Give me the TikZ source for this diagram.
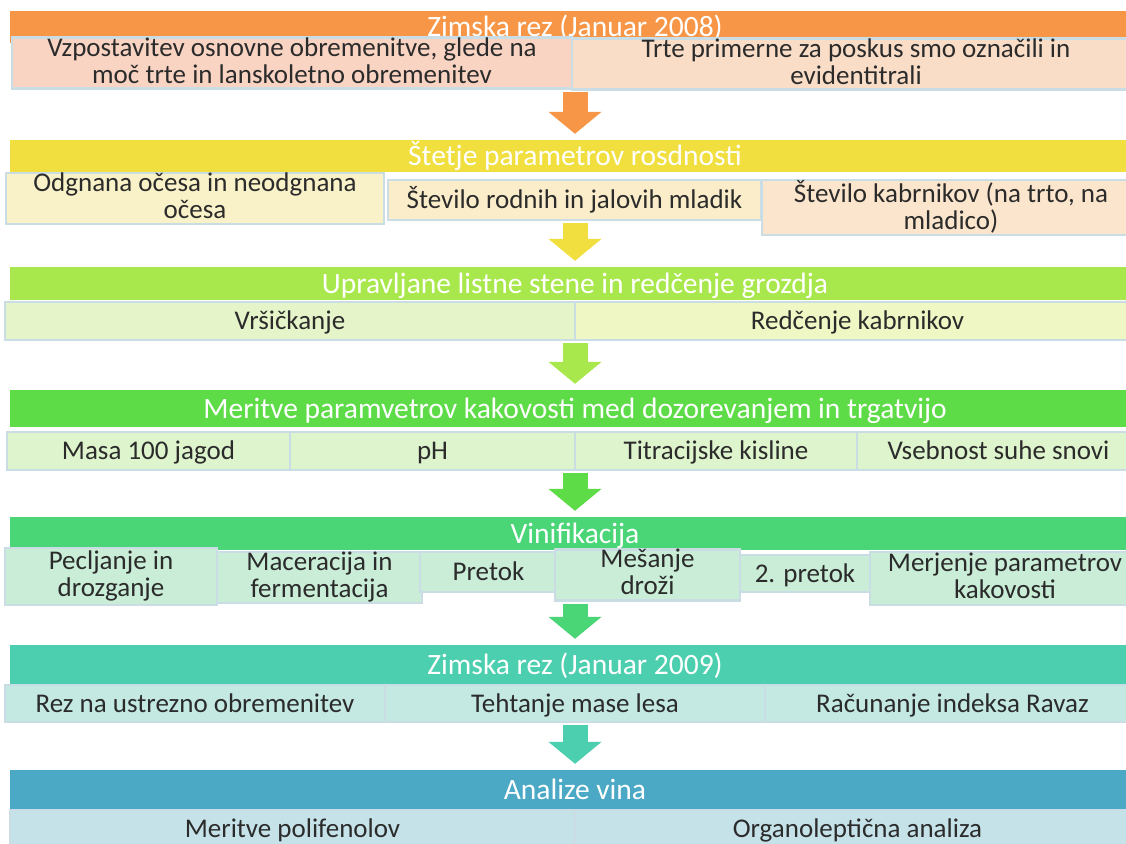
\documentclass[tikz,border=0pt]{standalone}
\usepackage{fontspec}
\setmainfont{Carlito}
\usepackage{tikz}
\usetikzlibrary{arrows.meta}

\definecolor{orhead}{HTML}{F79646}
\definecolor{orsubA}{HTML}{F9D4C3}
\definecolor{orsubB}{HTML}{FADDC7}
\definecolor{yehead}{HTML}{F0DF3F}
\definecolor{yesubA}{HTML}{F9F1C7}
\definecolor{yesubB}{HTML}{FBEDCA}
\definecolor{yesubC}{HTML}{FBE5CC}
\definecolor{lihead}{HTML}{A9E84C}
\definecolor{lisubA}{HTML}{E6F5C9}
\definecolor{lisubB}{HTML}{EFF7C4}
\definecolor{grhead}{HTML}{5EDC48}
\definecolor{grsub}{HTML}{DEF4CD}
\definecolor{vihead}{HTML}{4AD577}
\definecolor{visub}{HTML}{C9EDD6}
\definecolor{tehead}{HTML}{4CCFAF}
\definecolor{tesub}{HTML}{C3E9E2}
\definecolor{blhead}{HTML}{4BA9C6}
\definecolor{blsub}{HTML}{C6E2E9}
\definecolor{subline}{HTML}{CADDE4}
\definecolor{textgray}{HTML}{2B2B2B}

\tikzset{
  head/.style={rectangle, inner sep=0pt, minimum width=1130pt, text=white,
    font=\fontsize{29.5}{30}\selectfont,
    execute at begin node={\rule{0pt}{25pt}},
    execute at end node={\rule[-6pt]{0pt}{6pt}}},
  sub/.style={rectangle, draw=subline, line width=2.5pt, inner sep=0pt,
    align=center, text=textgray, font=\fontsize{27}{27}\selectfont,
    execute at begin node={\rule{0pt}{23pt}},
    execute at end node={\rule[-5.6pt]{0pt}{5.6pt}}},
  fatarrow/.style={line width=25pt, shorten <=2pt, shorten >=6pt,
    -{Triangle[length=22pt,width=52pt]}}
}

\begin{document}
\begin{tikzpicture}[x=1pt, y=-1pt]
\useasboundingbox (0,0) rectangle (1126,843);
\clip (0,0) rectangle (1126,843);

% ===== Zimska rez 2008 =====
\node[head, fill=orhead, minimum height=32pt] (h1) at (575,27) {Zimska rez (Januar 2008)};
\node[sub, fill=orsubA, minimum width=560pt, minimum height=50pt] (r1a) at (292,63)
  {Vzpostavitev osnovne obremenitve, glede na\\moč trte in lanskoletno obremenitev};
\node[sub, fill=orsubB, minimum width=568pt, minimum height=48pt] (r1b) at (856,64)
  {Trte primerne za poskus smo označili in\\evidentitrali};

% ===== Stetje parametrov =====
\node[head, fill=yehead, minimum height=32pt] (h2) at (575,156) {Štetje parametrov rosdnosti};
\node[sub, fill=yesubA, minimum width=378pt, minimum height=46pt] (r2a) at (195,198.5)
  {Odgnana očesa in neodgnana\\očesa};
\node[sub, fill=yesubB, minimum width=373pt, minimum height=40pt] (r2b) at (574.5,200)
  {Število rodnih in jalovih mladik};
\node[sub, fill=yesubC, minimum width=378pt, minimum height=55pt] (r2c) at (951,207.5)
  {Število kabrnikov (na trto, na\\mladico)};

% ===== Listne stene =====
\node[head, fill=lihead, minimum height=33pt] (h3) at (575,283.5) {Upravljane listne stene in redčenje grozdja};
\node[sub, fill=lisubA, minimum width=570pt, minimum height=38pt] (r3a) at (290,321) {Vršičkanje};
\node[sub, fill=lisubB, minimum width=565pt, minimum height=38pt] (r3b) at (857.5,321) {Redčenje kabrnikov};

% ===== Meritve kakovosti =====
\node[head, fill=grhead, minimum height=37pt] (h4) at (575,408.5) {Meritve paramvetrov kakovosti med dozorevanjem in trgatvijo};
\node[sub, fill=grsub, minimum width=283pt, minimum height=38pt] (r4a) at (148.5,451) {Masa 100 jagod};
\node[sub, fill=grsub, minimum width=285pt, minimum height=38pt] (r4b) at (432.5,451) {pH};
\node[sub, fill=grsub, minimum width=282pt, minimum height=38pt] (r4c) at (716,451) {Titracijske kisline};
\node[sub, fill=grsub, minimum width=283pt, minimum height=38pt] (r4d) at (998.5,451) {Vsebnost suhe snovi};

% ===== Vinifikacija =====
\node[head, fill=vihead, minimum height=33pt] (h5) at (575,533.5) {Vinifikacija};
\node[sub, fill=visub, minimum width=212pt, minimum height=57pt] (r5a) at (111,576.5) {Pecljanje in\\drozganje};
\node[sub, fill=visub, minimum width=205pt, minimum height=51pt] (r5b) at (319.5,577.5) {Maceracija in\\fermentacija};
\node[sub, fill=visub, minimum width=137pt, minimum height=40pt] (r5c) at (488.5,572) {Pretok};
\node[sub, fill=visub, minimum width=185pt, minimum height=50pt] (r5d) at (647.5,575) {Mešanje\\droži};
\node[sub, fill=visub, minimum width=130pt, minimum height=37pt] (r5e) at (805,573.5) {2. pretok};
\node[sub, fill=visub, minimum width=270pt, minimum height=53pt] (r5f) at (1005,578.5) {Merjenje parametrov\\kakovosti};

% ===== Zimska rez 2009 =====
\node[head, fill=tehead, minimum height=40pt] (h6) at (575,665) {Zimska rez (Januar 2009)};
\node[sub, fill=tesub, minimum width=380pt, minimum height=37pt] (r6a) at (195,703.5) {Rez na ustrezno obremenitev};
\node[sub, fill=tesub, minimum width=380pt, minimum height=37pt] (r6b) at (575,703.5) {Tehtanje mase lesa};
\node[sub, fill=tesub, minimum width=375pt, minimum height=37pt] (r6c) at (952.5,703.5) {Računanje indeksa Ravaz};

% ===== Analize vina =====
\node[head, fill=blhead, minimum height=40pt] (h7) at (575,790) {Analize vina};
\node[sub, fill=blsub, minimum width=565pt, minimum height=38pt] (r7a) at (292.5,829) {Meritve polifenolov};
\node[sub, fill=blsub, minimum width=565pt, minimum height=38pt] (r7b) at (857.5,829) {Organoleptična analiza};

% arrows
\draw[fatarrow, orhead] (h1.center |- r1a.south) -- (h2.north);
\draw[fatarrow, yehead] (h2.center |- r2b.south) -- (h3.north);
\draw[fatarrow, lihead] (h3.center |- r3a.south) -- (h4.north);
\draw[fatarrow, grhead] (h4.center |- r4b.south) -- (h5.north);
\draw[fatarrow, vihead] (h5.center |- r5d.south) -- (h6.north);
\draw[fatarrow, tehead] (h6.center |- r6b.south) -- (h7.north);

\end{tikzpicture}
\end{document}
